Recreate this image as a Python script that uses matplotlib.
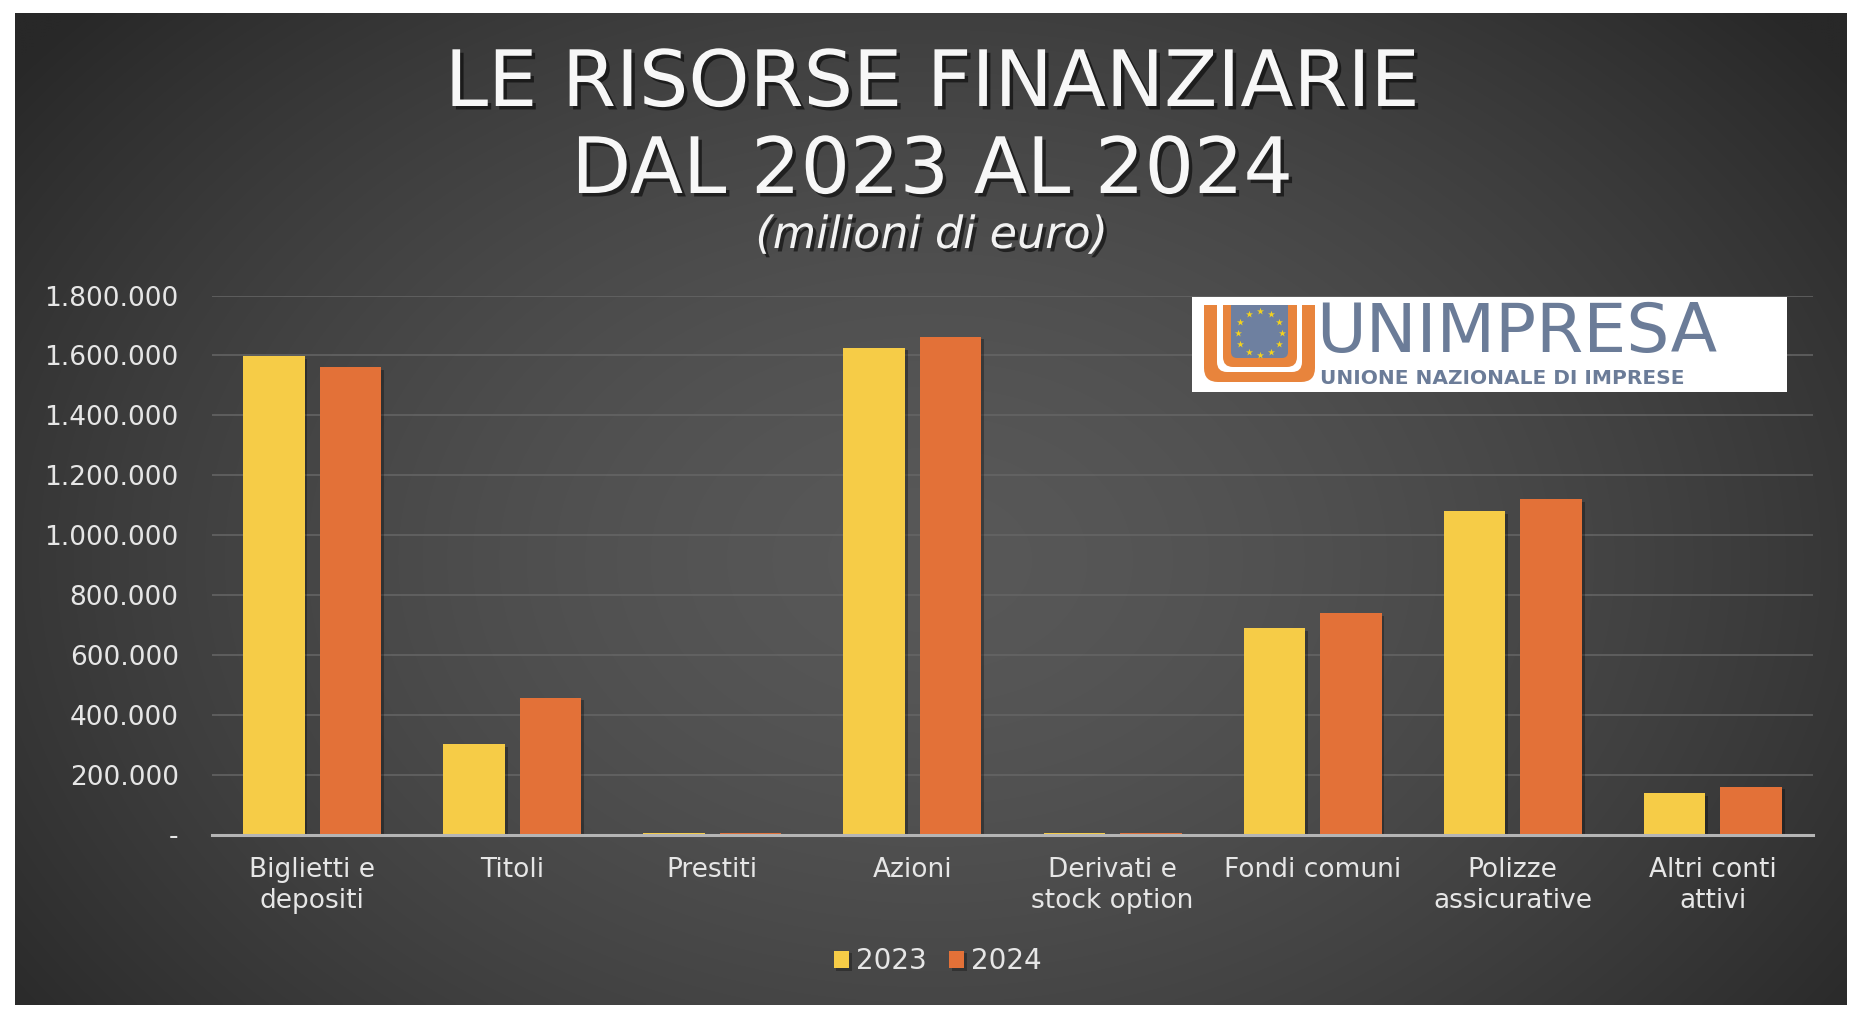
import numpy as np
import matplotlib
matplotlib.use("Agg")
import matplotlib.pyplot as plt
import matplotlib.patheffects as pe
from matplotlib.patches import Rectangle, FancyBboxPatch

# ---------------- data ----------------
categories = ["Biglietti e\ndepositi", "Titoli", "Prestiti", "Azioni",
              "Derivati e\nstock option", "Fondi comuni", "Polizze\nassicurative",
              "Altri conti\nattivi"]
values_2023 = [1598000, 301000, 5000, 1626000, 5000, 690000, 1081000, 138000]
values_2024 = [1562000, 457000, 5000, 1663000, 5000, 739000, 1121000, 160000]
series_labels = ["2023", "2024"]
y_ticks = [0, 200000, 400000, 600000, 800000, 1000000, 1200000, 1400000, 1600000, 1800000]
y_tick_labels = ["-", "200.000", "400.000", "600.000", "800.000", "1.000.000",
                 "1.200.000", "1.400.000", "1.600.000", "1.800.000"]

title_line1 = "LE RISORSE FINANZIARIE"
title_line2 = "DAL 2023 AL 2024"
subtitle = "(milioni di euro)"

# ---------------- style ----------------
W, H = 1864, 1024
col_2023 = "#F6CC47"
col_2024 = "#E37138"
txt_col = "#E6E6E6"
plt.rcParams['font.family'] = ['DejaVu Sans']

fig = plt.figure(figsize=(W / 100, H / 100), dpi=100, facecolor="white")

# background panel with radial gradient
bg = fig.add_axes([0, 0, 1, 1], zorder=0)
bg.set_xlim(0, W)
bg.set_ylim(H, 0)
bg.axis("off")
px0, px1, py0, py1 = 15, 1847, 13, 1005
gx = np.linspace(px0, px1, 600)
gy = np.linspace(py0, py1, 330)
GX, GY = np.meshgrid(gx, gy)
r = np.sqrt(((GX - 930) / 1150.0) ** 2 + ((GY - 560) / 820.0) ** 2)
r = np.clip(r, 0, 1)
c_center, c_edge = 88 / 255, 40 / 255
val = c_center + (c_edge - c_center) * r ** 1.6
img = np.dstack([val, val, val])
bg.imshow(img, extent=[px0, px1, py1, py0], aspect="auto", interpolation="bilinear")

# main axes
ax_left, ax_right = 212 / W, 1813 / W
ax_bottom, ax_top = 1 - 834.5 / H, 1 - 295.6 / H
ax = fig.add_axes([ax_left, ax_bottom, ax_right - ax_left, ax_top - ax_bottom], zorder=2)
ax.set_facecolor("none")

x = np.arange(len(categories))
bw = 0.3075
off = 0.191
shadow = [pe.SimplePatchShadow(offset=(2, -2), shadow_rgbFace="black", alpha=0.3), pe.Normal()]
b1 = ax.bar(x - off, values_2023, width=bw, color=col_2023, label=series_labels[0], zorder=3)
b2 = ax.bar(x + off, values_2024, width=bw, color=col_2024, label=series_labels[1], zorder=3)
for b in list(b1) + list(b2):
    b.set_path_effects(shadow)

ax.set_xlim(-0.5, len(categories) - 0.5)
ax.set_ylim(0, 1800000)
ax.set_yticks(y_ticks)
ax.set_yticklabels(y_tick_labels)
ax.set_xticks(x)
ax.set_xticklabels(categories, linespacing=1.25)
ax.tick_params(axis="y", length=0, pad=24, labelsize=19, labelcolor=txt_col)
ax.tick_params(axis="x", length=0, pad=16, labelsize=19, labelcolor=txt_col)
ax.grid(axis="y", color="#666666", linewidth=1.1, zorder=1)
ax.grid(axis="x", visible=False)
ax.set_axisbelow(True)
for s in ["top", "right", "left"]:
    ax.spines[s].set_visible(False)
ax.spines["bottom"].set_color("#B5B5B5")
ax.spines["bottom"].set_linewidth(2.2)
ax.spines["bottom"].set_zorder(4)

leg = fig.legend(handles=[b1, b2], labels=series_labels, loc="center",
                 bbox_to_anchor=(0.503, 1 - 961 / H), ncol=2, frameon=False,
                 fontsize=20, labelcolor=txt_col, handlelength=0.55, handleheight=0.58,
                 handletextpad=0.25, columnspacing=0.8)

# titles
shadow_txt = [pe.withSimplePatchShadow(offset=(2.5, -2.5), shadow_rgbFace="black", alpha=0.55)]
fig.text(0.5, 1 - 106 / H, title_line1, ha="center", va="baseline", fontsize=56,
         color="#F7F7F7", path_effects=shadow_txt)
fig.text(0.5, 1 - 193 / H, title_line2, ha="center", va="baseline", fontsize=56,
         color="#F7F7F7", path_effects=shadow_txt)
fig.text(0.5, 1 - 248 / H, subtitle, ha="center", va="baseline", fontsize=32,
         style="italic", color="#F2F2F2", path_effects=shadow_txt)

# logo overlay
lg = fig.add_axes([0, 0, 1, 1], zorder=5)
lg.set_xlim(0, W)
lg.set_ylim(H, 0)
lg.axis("off")
lg.set_facecolor("none")
lg.add_patch(Rectangle((1192, 297), 595, 95, facecolor="white", edgecolor="none"))
clip = Rectangle((1195, 305), 130, 85, transform=lg.transData, facecolor="none", edgecolor="none")
orange = "#E8843C"
blue = "#6E80A0"
emblem = [
    FancyBboxPatch((1204, 270), 111, 112, boxstyle="round,pad=0,rounding_size=14", fc=orange, ec="none"),
    FancyBboxPatch((1217, 270), 85, 102, boxstyle="round,pad=0,rounding_size=10", fc="white", ec="none"),
    FancyBboxPatch((1223, 270), 74, 97, boxstyle="round,pad=0,rounding_size=10", fc=orange, ec="none"),
    FancyBboxPatch((1231, 270), 57, 88, boxstyle="round,pad=0,rounding_size=6", fc=blue, ec="none"),
]
for p in emblem:
    lg.add_patch(p)
    p.set_clip_path(clip)
ang = np.deg2rad(np.arange(0, 360, 30))
lg.scatter(1259.5 + 22 * np.cos(ang), 333 + 22 * np.sin(ang), marker="*", s=28,
           color="#F3D21E", linewidths=0, zorder=6)
lg.text(1316, 352, "UNIMPRESA", ha="left", va="baseline", fontsize=49, color="#6B7C98")
lg.text(1320, 384, "UNIONE NAZIONALE DI IMPRESE", ha="left", va="baseline", fontsize=14.5,
        fontweight="bold", color="#6B7C98")

fig.savefig("out.png", dpi=100, facecolor="white")
